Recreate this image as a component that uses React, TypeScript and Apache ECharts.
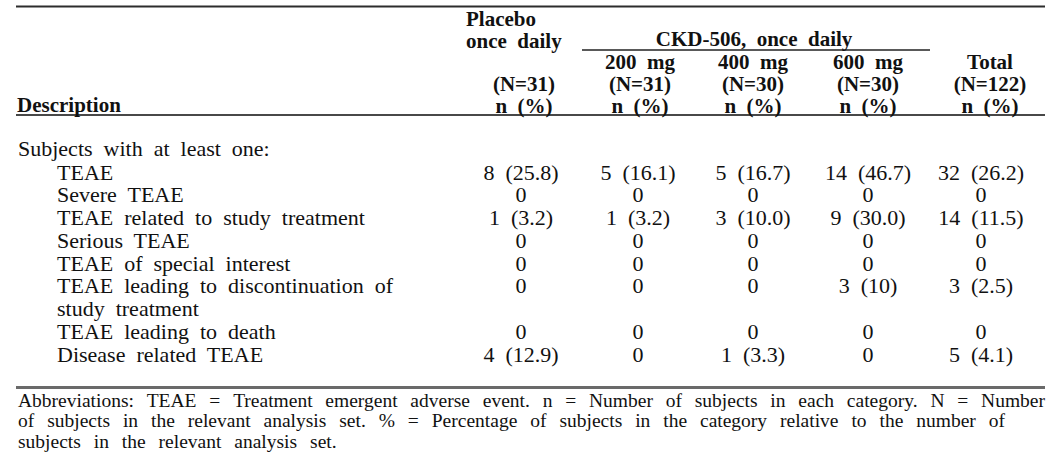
import React, { useEffect, useRef } from "react";
import * as echarts from "echarts";

// ---------- data ----------
const stubHeader = "Description";
const groupLabel = "Subjects with at least one:";
const rowLabels = [
  "TEAE",
  "Severe TEAE",
  "TEAE related to study treatment",
  "Serious TEAE",
  "TEAE of special interest",
  "TEAE leading to discontinuation of\nstudy treatment",
  "TEAE leading to death",
  "Disease related TEAE",
];
const placeboN = [8, 0, 1, 0, 0, 0, 0, 4];
const placeboPct = ["25.8", "", "3.2", "", "", "", "", "12.9"];
const mg200N = [5, 0, 1, 0, 0, 0, 0, 0];
const mg200Pct = ["16.1", "", "3.2", "", "", "", "", ""];
const mg400N = [5, 0, 3, 0, 0, 0, 0, 1];
const mg400Pct = ["16.7", "", "10.0", "", "", "", "", "3.3"];
const mg600N = [14, 0, 9, 0, 0, 3, 0, 0];
const mg600Pct = ["46.7", "", "30.0", "", "", "10", "", ""];
const totalN = [32, 0, 14, 0, 0, 3, 0, 5];
const totalPct = ["26.2", "", "11.5", "", "", "2.5", "", "4.1"];
const doseLabels = ["200 mg", "400 mg", "600 mg"];
const doseNs = ["(N=31)", "(N=30)", "(N=30)"];
const placeboHeader = ["Placebo", "once daily"];
const placeboNLabel = "(N=31)";
const ckdHeader = "CKD-506, once daily";
const totalHeader = ["Total", "(N=122)"];
const statLabel = "n (%)";
const footnoteLines = [
  "Abbreviations: TEAE = Treatment emergent adverse event. n = Number of subjects in each category. N = Number",
  "of subjects in the relevant analysis set. % = Percentage of subjects in the category relative to the number of",
  "subjects in the relevant analysis set.",
];

// ---------- helpers ----------
const FONT = '"Liberation Serif", "Times New Roman", serif';
const INK = "#111111";
let ctx: CanvasRenderingContext2D | null = null;
function fontStr(size: number, bold: boolean) {
  return `${bold ? "bold " : ""}${size}px ${FONT}`;
}
function tw(s: string, size: number, bold: boolean): number {
  if (!ctx) ctx = document.createElement("canvas").getContext("2d");
  ctx!.font = fontStr(size, bold);
  return ctx!.measureText(s).width;
}
const wide = (s: string) => s.replace(/ /g, "  ");

function txt(
  text: string,
  x: number,
  y: number,
  size: number,
  bold: boolean,
  align: "left" | "center" | "right",
  lineHeight?: number
) {
  return {
    type: "text",
    x,
    y,
    silent: true,
    style: {
      text,
      font: fontStr(size, bold),
      fill: INK,
      textAlign: align,
      textVerticalAlign: "middle",
      lineHeight: lineHeight ?? size,
    },
  };
}
function justified(str: string, x: number, y: number, size: number, gap: number) {
  const ws = str.split(" ").filter(Boolean);
  let cx = x;
  return ws.map((w) => {
    const el = txt(w, cx, y, size, false, "left");
    cx += tw(w, size, false) + gap;
    return el;
  });
}
function gapFor(str: string, size: number, width: number) {
  const ws = str.split(" ").filter(Boolean);
  const sum = ws.reduce((a, w) => a + tw(w, size, false), 0);
  return (width - sum) / (ws.length - 1);
}
function rule(x1: number, x2: number, y: number, w: number, color: string) {
  return {
    type: "line",
    silent: true,
    shape: { x1, y1: y, x2, y2: y },
    style: { stroke: color, lineWidth: w },
  };
}
function cell(n: number, pct: string) {
  return pct ? `${n}  (${pct})` : `${n}`;
}

function buildElements(): any[] {
  const els: any[] = [];
  const L = 16;
  const R = 1045;
  const S = 22; // body size
  const HS = 21; // header size
  const hl = 22; // header line step

  // rules
  els.push(rule(L, R, 6.5, 2, "#2c2c2c"));
  els.push(rule(582, 930, 50, 1.5, "#222222"));
  els.push(rule(L, R, 115, 2, "#484848"));
  els.push(rule(L, R, 387.5, 3, "#6a6a6a"));

  // header
  els.push(txt(placeboHeader.map(wide).join("\n"), 466, 18.5 + hl / 2, HS, true, "left", hl));
  els.push(txt([placeboNLabel, wide(statLabel)].join("\n"), 524, 106 - hl / 2, HS, true, "center", hl));
  els.push(txt(wide(ckdHeader), 754, 38.5, HS, true, "center"));
  const doseCenters = [640, 753, 868];
  doseLabels.forEach((d, i) => {
    els.push(
      txt([wide(d), doseNs[i], wide(statLabel)].join("\n"), doseCenters[i], 106 - hl, HS, true, "center", hl)
    );
  });
  els.push(
    txt([wide(totalHeader[0]), totalHeader[1], wide(statLabel)].join("\n"), 990, 106 - hl, HS, true, "center", hl)
  );
  els.push(txt(stubHeader, 17, 104.5, HS, true, "left"));

  // body
  const step = 22.75;
  els.push(txt(wide(groupLabel), 18, 148.75, S, false, "left"));
  const labelLines: string[] = [];
  const lineOwner: number[] = [];
  rowLabels.forEach((lab, i) => {
    lab.split("\n").forEach((p, k) => {
      labelLines.push(wide(p));
      lineOwner.push(k === 0 ? i : -1);
    });
  });
  const nLines = labelLines.length;
  const yTop = 172;
  const yMid = yTop + ((nLines - 1) * step) / 2;
  els.push(txt(labelLines.join("\n"), 57, yMid, S, false, "left", step));
  const cols: [number[], string[], number][] = [
    [placeboN, placeboPct, 521],
    [mg200N, mg200Pct, 638],
    [mg400N, mg400Pct, 753],
    [mg600N, mg600Pct, 868],
    [totalN, totalPct, 981],
  ];
  cols.forEach(([ns, ps, cx]) => {
    const lines = lineOwner.map((o) => (o >= 0 ? cell(ns[o], ps[o]) : ""));
    els.push(txt(lines.join("\n"), cx, yMid, S, false, "center", step));
  });

  // footnote
  const F = 19.5;
  const fx = 18;
  const g1 = gapFor(footnoteLines[0], F, R - fx);
  const g2 = gapFor(footnoteLines[1], F, 1005 - fx);
  els.push(...justified(footnoteLines[0], fx, 400, F, g1));
  els.push(...justified(footnoteLines[1], fx, 420.5, F, g2));
  els.push(...justified(footnoteLines[2], fx, 441, F, g2));
  return els;
}

export default function App() {
  const ref = useRef<HTMLDivElement>(null);
  useEffect(() => {
    if (!ref.current) return;
    const chart = echarts.init(ref.current, undefined, { renderer: "svg" });
    chart.setOption({
      animation: false,
      backgroundColor: "#ffffff",
      graphic: { elements: buildElements() },
    });
    return () => chart.dispose();
  }, []);
  return (
    <div
      ref={ref}
      style={{ position: "fixed", left: 0, top: 0, width: 1061, height: 466, background: "#fff" }}
    />
  );
}
